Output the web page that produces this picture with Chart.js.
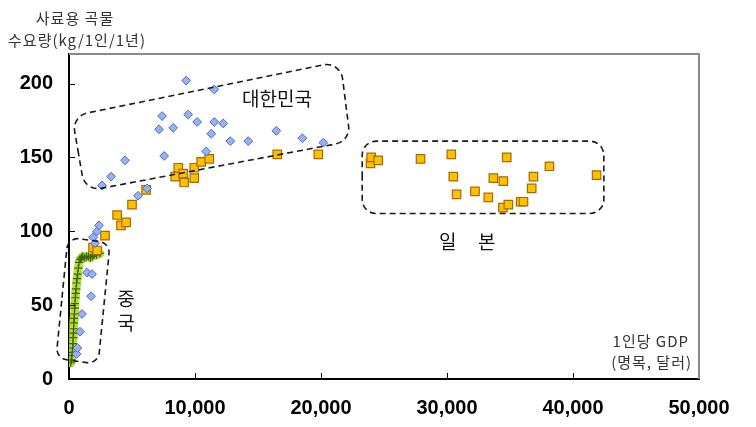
<!DOCTYPE html>
<html><head><meta charset="utf-8">
<script src="https://cdn.jsdelivr.net/npm/chart.js@4/dist/chart.umd.min.js"></script>
<style>html,body{margin:0;padding:0;background:#fff}canvas{display:block}</style>
</head><body>
<canvas id="c" width="756" height="427"></canvas>
<script>
// ---- data (GDP per capita, nominal USD ; feed grain demand kg/person/year) ----
const koreaGdp  = [600, 660, 870, 1030, 1750, 1430, 1830, 2070, 1910, 2230, 2380, 2620, 3340, 4450, 5480, 6200, 7150, 7390, 7550, 8270, 9300, 9460, 10170, 10890, 11290, 11530, 11530, 12240, 12800, 14230, 16450, 18520, 20190];
const koreaFeed = [17, 21, 32, 44, 56, 72, 71, 92, 96, 100, 104, 131, 137, 148, 124, 129, 169, 178, 151, 170, 202, 179, 174, 154, 166, 196, 174, 173, 161, 161, 168, 163, 160];

const japanGdp  = [1910, 2230, 2860, 4130, 4530, 3820, 5000, 6120, 8430, 8670, 9060, 9140, 9940, 9940, 10490, 11130, 16530, 19790,
                   23930, 23980, 24540, 27900, 30340, 30500, 30760, 32220, 33280, 33680, 34440, 34470, 34740, 34870, 35850, 36070, 36720, 36860, 38130, 41870];
const japanFeed = [89, 87, 97, 104, 106, 111, 118, 128, 137, 143, 139, 133, 143, 136, 147, 149, 152, 152,
                   146, 150, 148, 149, 152, 137, 125, 127, 123, 136, 116, 134, 150, 118, 120, 120, 129, 137, 144, 138];

const chinaGdp  = [150, 190, 230, 260, 290, 310, 330, 350, 370, 390, 410, 430, 450, 470, 500, 530, 560, 600, 640, 690, 740, 800, 900, 1000, 1100, 1250, 1400, 1550, 1700, 1850, 2000, 2200, 2450];
const chinaFeed = [11, 13, 16, 18, 21, 24, 28, 31, 34, 38, 41, 44, 48, 51, 55, 58, 61, 65, 68, 71, 75, 79, 81, 82, 83, 82, 83, 83, 82, 83, 84, 84, 85];

const xTickValues = [0, 10000, 20000, 30000, 40000, 50000];
const yTickValues = [0, 50, 100, 150, 200];

// group outlines (corners in data units) and labels
const koreaBox = [[240, 178], [21540, 215], [22340, 161], [1270, 127]];
const japanBox = [[23270, 161], [42450, 161], [42450, 112], [23270, 112]];
const chinaBox = [[-80, 96], [3260, 92], [2310, 10], [-1030, 14]];
const groupLabels = [
  {text: '대한민국', x: 16500, y: 190},
  {text: '일', x: 30050, y: 93},
  {text: '본', x: 33150, y: 93},
  {text: '중', x: 4530, y: 54},
  {text: '국', x: 4530, y: 38}
];
const yTitleLines = ['사료용 곡물', '수요량(kg/1인/1년)'];
const xTitleLines = ['1인당 GDP', '(명목, 달러)'];

const zip = (xs, ys) => xs.map((x, i) => ({x, y: ys[i]}));

function roundedPoly(ctx, pts, r) {
  const n = pts.length;
  const s = [(pts[n-1][0] + pts[0][0]) / 2, (pts[n-1][1] + pts[0][1]) / 2];
  ctx.beginPath();
  ctx.moveTo(s[0], s[1]);
  for (let i = 0; i < n; i++) {
    const p = pts[i], q = pts[(i + 1) % n];
    ctx.arcTo(p[0], p[1], q[0], q[1], r);
  }
  ctx.closePath();
}

const decor = {
  id: 'decor',
  afterDraw(chart) {
    const {ctx, chartArea: a, scales: {x, y}} = chart;
    ctx.save();
    // top/right frame
    ctx.strokeStyle = '#8a8a8a'; ctx.lineWidth = 2;
    ctx.beginPath(); ctx.moveTo(a.left, a.top); ctx.lineTo(a.right, a.top); ctx.lineTo(a.right, a.bottom); ctx.stroke();
    // inward tick marks
    ctx.strokeStyle = '#000'; ctx.lineWidth = 1;
    y.ticks.forEach(t => { if (t.value > 0) { const py = Math.round(y.getPixelForValue(t.value)) + 0.5; ctx.beginPath(); ctx.moveTo(a.left, py); ctx.lineTo(a.left + 6, py); ctx.stroke(); } });
    x.ticks.forEach(t => { if (t.value > 0 && t.value < 50000) { const px = Math.round(x.getPixelForValue(t.value)) + 0.5; ctx.beginPath(); ctx.moveTo(px, a.bottom); ctx.lineTo(px, a.bottom - 6); ctx.stroke(); } });
    // dashed group outlines
    ctx.strokeStyle = '#1a1a1a'; ctx.lineWidth = 1.6; ctx.setLineDash([6, 4]);
    [[koreaBox, 16], [japanBox, 14], [chinaBox, 11]].forEach(([box, r]) => {
      roundedPoly(ctx, box.map(p => [x.getPixelForValue(p[0]), y.getPixelForValue(p[1])]), r);
      ctx.stroke();
    });
    ctx.setLineDash([]);
    // group labels
    ctx.fillStyle = '#111'; ctx.font = '19px "Noto Sans CJK KR"'; ctx.textAlign = 'center'; ctx.textBaseline = 'middle';
    groupLabels.forEach(l => ctx.fillText(l.text, x.getPixelForValue(l.x), y.getPixelForValue(l.y)));
    // axis titles
    ctx.fillStyle = '#333'; ctx.font = '15px "Noto Sans CJK KR"';
    try { ctx.letterSpacing = '1px'; } catch (e) {}
    ctx.fillText(yTitleLines[0], 75, 18);
    ctx.fillText(yTitleLines[1], 77, 40);
    ctx.textAlign = 'right';
    ctx.fillText(xTitleLines[0], 689, 341);
    ctx.fillText(xTitleLines[1], 692, 362);
    ctx.restore();
  }
};

const tickFont = {family: '"Liberation Sans", Arial, sans-serif', size: 20, weight: 'bold'};

new Chart(document.getElementById('c'), {
  type: 'scatter',
  data: {
    datasets: [
      {label: '대한민국', data: zip(koreaGdp, koreaFeed), pointStyle: 'rectRot', pointRadius: 4.4,
       backgroundColor: '#98b2f0', borderColor: '#4b69c6', borderWidth: 1},
      {label: '일본', data: zip(japanGdp, japanFeed), pointStyle: 'rect', pointRadius: 6,
       backgroundColor: '#ffc000', borderColor: '#a86a00', borderWidth: 1.2},
      {label: '중국', data: zip(chinaGdp, chinaFeed), pointStyle: 'cross', pointRadius: 4,
       borderColor: '#3b6412', borderWidth: 1.2, backgroundColor: '#3b6412'},
      {label: '중국 glow', data: zip(chinaGdp, chinaFeed), showLine: true, pointRadius: 4.5,
       pointBackgroundColor: 'rgba(180,220,40,0.7)', pointBorderWidth: 0,
       borderColor: 'rgba(180,220,40,0.7)', borderWidth: 9, borderJoinStyle: 'round', borderCapStyle: 'round'}
    ]
  },
  options: {
    responsive: false, animation: false, events: [],
    layout: {padding: {top: 54, right: 57, left: 0, bottom: 0}},
    plugins: {legend: {display: false}, tooltip: {enabled: false}},
    scales: {
      x: {
        type: 'linear', min: 0, max: 50000,
        afterBuildTicks: s => { s.ticks = xTickValues.map(v => ({value: v})); },
        afterFit: s => { s.height = 48; },
        grid: {display: false, drawTicks: false},
        border: {display: true, color: '#000', width: 2},
        ticks: {color: '#000', font: tickFont, padding: 17, maxRotation: 0,
                callback: v => v.toLocaleString('en-US')}
      },
      y: {
        type: 'linear', min: 0, max: 220,
        afterBuildTicks: s => { s.ticks = yTickValues.map(v => ({value: v})); },
        afterFit: s => { s.width = 69; },
        grid: {display: false, drawTicks: false},
        border: {display: true, color: '#000', width: 2},
        ticks: {color: '#000', font: tickFont, padding: 16}
      }
    }
  },
  plugins: [decor]
});
</script>
</body></html>
